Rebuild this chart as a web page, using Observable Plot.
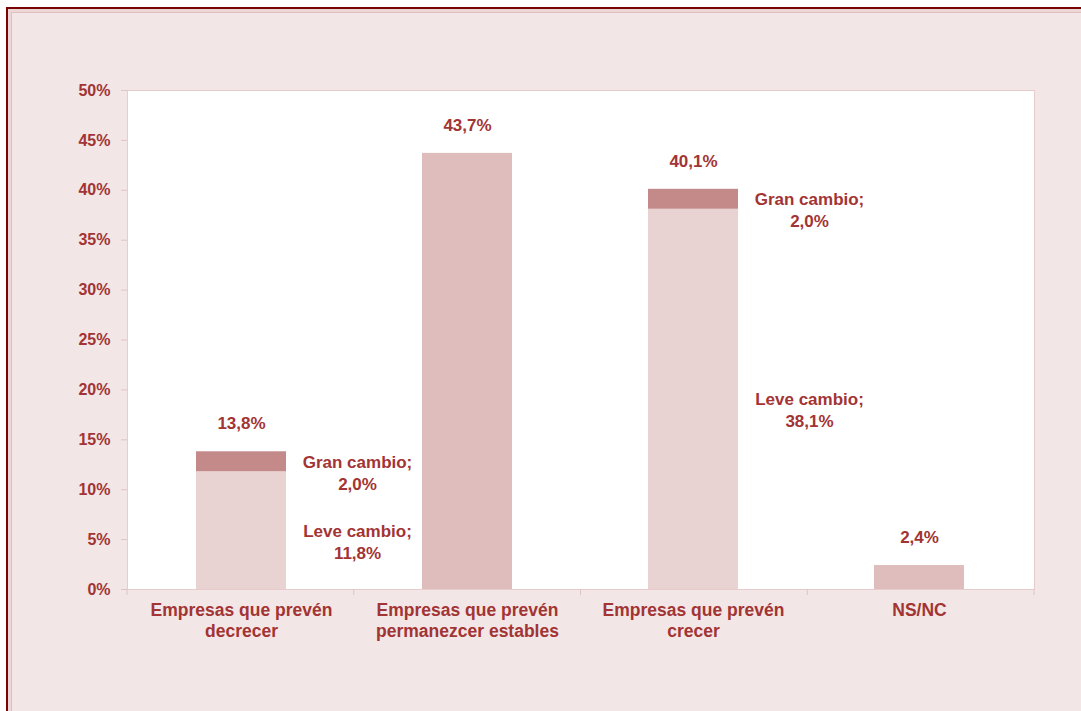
<!DOCTYPE html>
<html>
<head>
<meta charset="utf-8">
<script src="https://cdn.jsdelivr.net/npm/d3@7"></script>
<script src="https://cdn.jsdelivr.net/npm/@observablehq/plot@0.6"></script>
<style>
  html, body { margin: 0; padding: 0; background: #ffffff; width: 1081px; height: 711px; overflow: hidden; }
  #bg {
    position: absolute; left: 6px; top: 7px; width: 1081px; height: 711px;
    background: #f2e6e6;
    border-left: 2px solid #7a0404; border-top: 2px solid #7a0404;
    box-shadow: inset 3px 3px 0 #ecd6d6, inset 4px 4px 0 #dfc0c0;
  }
  #chart { position: absolute; left: 0; top: 0; }
  #chart svg { background: transparent; }
</style>
</head>
<body>
<div id="bg"></div>
<div id="chart"></div>
<script>
const categories = ["Empresas que prevén\ndecrecer", "Empresas que prevén\npermanezcer estables", "Empresas que prevén\ncrecer", "NS/NC"];
const leveCambio = [11.8, null, 38.1, null];
const granCambio = [2.0, null, 2.0, null];
const totals = [13.8, 43.7, 40.1, 2.4];
const yTicks = [0, 5, 10, 15, 20, 25, 30, 35, 40, 45, 50];
const seriesNames = ["Leve cambio", "Gran cambio", "Total"];
const seriesColors = ["#e8d2d2", "#c48a8a", "#dfbdbd"];

const textColor = "#a23434";
const font = "'Liberation Sans', Arial, sans-serif";
const fmt = v => v.toFixed(1).replace(".", ",") + "%";

// Long table for stacked bars
const rows = [];
categories.forEach((c, i) => {
  if (leveCambio[i] != null) {
    rows.push({cat: c, serie: "Leve cambio", value: leveCambio[i]});
    rows.push({cat: c, serie: "Gran cambio", value: granCambio[i]});
  } else {
    rows.push({cat: c, serie: "Total", value: totals[i]});
  }
});

const segLabels = [];
categories.forEach((c, i) => {
  if (leveCambio[i] != null) {
    segLabels.push({cat: c, y: leveCambio[i] / 2, text: "Leve cambio;\n" + fmt(leveCambio[i])});
    segLabels.push({cat: c, y: leveCambio[i] + granCambio[i] / 2, text: "Gran cambio;\n" + fmt(granCambio[i])});
  }
});

const totalRows = categories.map((c, i) => ({cat: c, value: totals[i]}));

// category boundary ticks below the x axis
function boundaryTicks(index, scales, values, dimensions) {
  const {width, height, marginLeft, marginRight, marginBottom} = dimensions;
  const step = (width - marginLeft - marginRight) / categories.length;
  const y0 = height - marginBottom;
  const g = d3.create("svg:g");
  for (let i = 0; i <= categories.length; i++) {
    const x = marginLeft + i * step;
    g.append("line").attr("x1", x).attr("x2", x).attr("y1", y0).attr("y2", y0 + 6)
      .attr("stroke", "#e0c4c4").attr("stroke-width", 1);
  }
  return g.node();
}

const chart = Plot.plot({
  width: 1081,
  height: 711,
  marginLeft: 127,
  marginRight: 47,
  marginTop: 90,
  marginBottom: 122,
  style: {background: "transparent", fontFamily: font, color: textColor},
  x: {domain: categories, paddingInner: 0.6, paddingOuter: 0.3, label: null},
  y: {domain: [0, 50], label: null},
  color: {domain: seriesNames, range: seriesColors},
  marks: [
    Plot.frame({fill: "white", stroke: "#e8cccc"}),
    Plot.barY(rows, {x: "cat", y: "value", fill: "serie"}),
    Plot.axisY({ticks: yTicks, tickFormat: d => d + "%", tickSize: 6, tickPadding: 11,
      stroke: "#e0c4c4", fill: textColor, fontSize: 16, fontWeight: "bold", label: null}),
    Plot.axisX({tickSize: 0, tickPadding: 11, fill: textColor, fontSize: 17.5, fontWeight: "bold",
      lineHeight: 1.22, label: null}),
    boundaryTicks,
    Plot.text(totalRows, {x: "cat", y: "value", text: d => fmt(d.value), dy: -28,
      fill: textColor, fontSize: 17, fontWeight: "bold"}),
    Plot.text(segLabels, {x: "cat", y: "y", text: "text", dx: 116, dy: 10, lineHeight: 1.3,
      fill: textColor, fontSize: 17, fontWeight: "bold"})
  ]
});
document.getElementById("chart").appendChild(chart);
</script>
</body>
</html>
